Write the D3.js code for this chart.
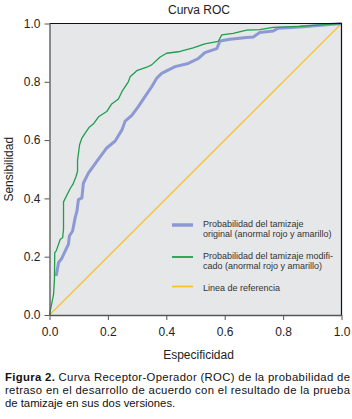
<!DOCTYPE html>
<html>
<head>
<meta charset="utf-8">
<script src="https://cdn.jsdelivr.net/npm/d3@7"></script>
<style>
  body { margin: 0; background: #fff; }
  svg { display: block; font-family: "Liberation Sans", Arial, sans-serif; }
</style>
</head>
<body>
<div id="chart"></div>
<script>
// ROC data (1 - especificidad, sensibilidad)
var fprModificado = [0, 0.014, 0.017, 0.018, 0.023, 0.037, 0.045, 0.048, 0.048, 0.071, 0.080, 0.091, 0.096, 0.096, 0.103, 0.111, 0.122, 0.137, 0.150, 0.168, 0.196, 0.213, 0.236, 0.248, 0.270, 0.276, 0.299, 0.333, 0.350, 0.379, 0.401, 0.447, 0.492, 0.532, 0.578, 0.590, 0.629, 0.675, 0.720, 0.766, 0.857, 0.954, 1.0];
var tprModificado = [0, 0.072, 0.123, 0.214, 0.220, 0.260, 0.265, 0.294, 0.388, 0.434, 0.448, 0.475, 0.493, 0.530, 0.584, 0.607, 0.624, 0.645, 0.655, 0.680, 0.698, 0.724, 0.741, 0.766, 0.800, 0.817, 0.838, 0.850, 0.858, 0.885, 0.898, 0.904, 0.916, 0.930, 0.939, 0.961, 0.966, 0.977, 0.979, 0.987, 0.990, 0.997, 1.0];

var fprOriginal = [0.023, 0.031, 0.042, 0.054, 0.065, 0.068, 0.079, 0.088, 0.094, 0.099, 0.111, 0.116, 0.133, 0.162, 0.196, 0.225, 0.248, 0.259, 0.282, 0.304, 0.327, 0.350, 0.367, 0.384, 0.430, 0.475, 0.510, 0.532, 0.573, 0.584, 0.618, 0.675, 0.698, 0.720, 0.766, 0.783, 0.857, 0.949, 1.0];
var tprOriginal = [0.134, 0.180, 0.194, 0.220, 0.243, 0.271, 0.288, 0.334, 0.356, 0.396, 0.402, 0.452, 0.487, 0.527, 0.573, 0.597, 0.635, 0.665, 0.685, 0.715, 0.749, 0.783, 0.812, 0.829, 0.852, 0.863, 0.880, 0.900, 0.914, 0.940, 0.946, 0.952, 0.954, 0.969, 0.974, 0.984, 0.988, 0.996, 1.0];

var referencia = [0, 1];
var tickValues = [0, 0.2, 0.4, 0.6, 0.8, 1.0];

var leyenda = [
  { lines: ["Probabilidad del tamizaje", "original (anormal rojo y amarillo)"], color: "#8c99d5", width: 3 },
  { lines: ["Probabilidad del tamizaje modifi-", "cado (anormal rojo y amarillo)"], color: "#1f9e4c", width: 1.3 },
  { lines: ["Linea de referencia"], color: "#f8c12c", width: 1.2 }
];

var caption = [
  { bold: "Figura 2.", rest: " Curva Receptor-Operador (ROC) de la probabilidad de", justify: true },
  { bold: "", rest: "retraso en el desarrollo de acuerdo con el resultado de la prueba", justify: true },
  { bold: "", rest: "de tamizaje en sus dos versiones.", justify: false }
];

var width = 352, height = 419;
var margin = { top: 23.5, right: 10.5, bottom: 104, left: 49.5 };
var w = width - margin.left - margin.right;
var h = height - margin.top - margin.bottom;

var svg = d3.select("#chart").append("svg")
    .attr("width", width)
    .attr("height", height);

var g = svg.append("g")
    .attr("transform", "translate(" + margin.left + "," + margin.top + ")");

var x = d3.scaleLinear().domain([0, 1]).range([0, w]);
var y = d3.scaleLinear().domain([0, 1]).range([h, 0]);

// plot background
g.append("rect")
    .attr("width", w)
    .attr("height", h)
    .attr("fill", "#e6e7e9");

// reference diagonal
g.append("line")
    .attr("x1", x(referencia[0])).attr("y1", y(referencia[0]))
    .attr("x2", x(referencia[1])).attr("y2", y(referencia[1]))
    .attr("stroke", leyenda[2].color)
    .attr("stroke-width", 1.2);

var line = d3.line()
    .x(function(d) { return x(d[0]); })
    .y(function(d) { return y(d[1]); });

g.append("path")
    .datum(d3.zip(fprOriginal, tprOriginal))
    .attr("d", line)
    .attr("fill", "none")
    .attr("stroke", leyenda[0].color)
    .attr("stroke-width", 3)
    .attr("stroke-linejoin", "round");

g.append("path")
    .datum(d3.zip(fprModificado, tprModificado))
    .attr("d", line)
    .attr("fill", "none")
    .attr("stroke", leyenda[1].color)
    .attr("stroke-width", 1.3)
    .attr("stroke-linejoin", "round");

// frame: top and right dark
g.append("path")
    .attr("d", "M0,0H" + w + "V" + h)
    .attr("fill", "none")
    .attr("stroke", "#111")
    .attr("stroke-width", 1.2);

// axes
var xAxis = g.append("g")
    .attr("transform", "translate(0," + h + ")")
    .call(d3.axisBottom(x).tickValues(tickValues).tickFormat(d3.format(".1f")).tickSize(5).tickSizeOuter(0));

var yAxis = g.append("g")
    .call(d3.axisLeft(y).tickValues(tickValues).tickFormat(d3.format(".1f")).tickSize(5).tickSizeOuter(0));

[xAxis, yAxis].forEach(function(a) {
    a.select(".domain").attr("stroke", "#555").attr("stroke-width", 1.3);
    a.selectAll(".tick line").attr("stroke", "#555").attr("stroke-width", 1);
    a.selectAll(".tick text")
        .attr("fill", "#222")
        .style("font-size", "12px")
        .style("font-family", "'Liberation Sans', Arial, sans-serif");
});
xAxis.selectAll(".tick text").attr("y", 12);
yAxis.selectAll(".tick text").attr("x", -9);

// titles
svg.append("text")
    .attr("x", 199)
    .attr("y", 14)
    .attr("text-anchor", "middle")
    .attr("fill", "#222")
    .style("font-size", "12px")
    .text("Curva ROC");

svg.append("text")
    .attr("x", margin.left + w / 2 + 3)
    .attr("y", 359)
    .attr("text-anchor", "middle")
    .attr("fill", "#222")
    .style("font-size", "12px")
    .text("Especificidad");

svg.append("text")
    .attr("transform", "translate(13," + (margin.top + h / 2) + ") rotate(-90)")
    .attr("text-anchor", "middle")
    .attr("fill", "#222")
    .style("font-size", "12px")
    .text("Sensibilidad");

// legend
var legendY = [225, 257, 286.5];
var lg = svg.selectAll(".legend")
    .data(leyenda)
    .enter().append("g")
    .attr("class", "legend")
    .attr("transform", function(d, i) { return "translate(172," + legendY[i] + ")"; });

lg.append("line")
    .attr("x1", 0).attr("x2", 21)
    .attr("stroke", function(d) { return d.color; })
    .attr("stroke-width", function(d) { return d.width + 0.5; });

lg.append("text")
    .attr("x", 31)
    .attr("y", function(d) { return d.lines.length > 1 ? -1.5 : 1.5; })
    .attr("fill", "#333")
    .style("font-size", "9px")
    .selectAll("tspan")
    .data(function(d) { return d.lines; })
    .enter().append("tspan")
    .attr("x", 31)
    .attr("dy", function(d, i) { return i === 0 ? "0.35em" : "10.5"; })
    .text(function(d) { return d; });

// caption
var cap = svg.selectAll(".caption")
    .data(caption)
    .enter().append("text")
    .attr("class", "caption")
    .attr("x", 5)
    .attr("y", function(d, i) { return 380.5 + i * 13; })
    .attr("fill", "#111")
    .style("font-size", "11.3px")
    .each(function(d) {
        if (d.justify) d3.select(this).attr("textLength", 345).attr("lengthAdjust", "spacing");
    });

cap.append("tspan")
    .style("font-weight", "bold")
    .text(function(d) { return d.bold; });
cap.append("tspan")
    .text(function(d) { return d.rest; });
</script>
</body>
</html>
